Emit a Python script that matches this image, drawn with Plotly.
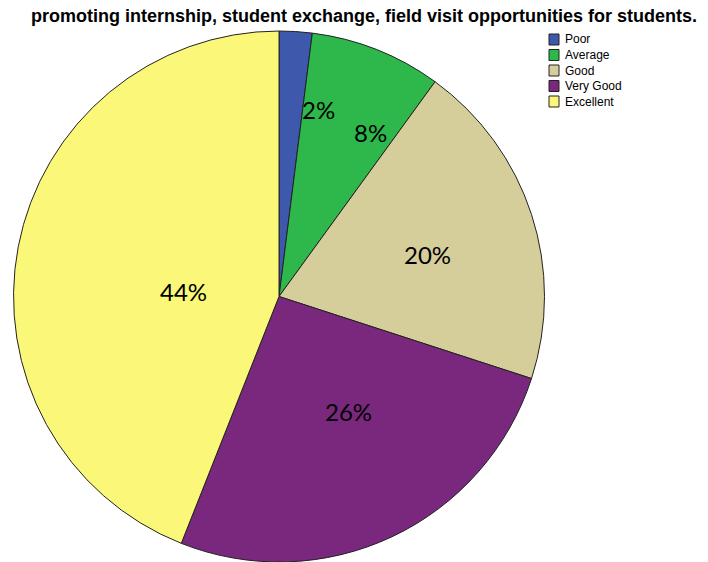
import math
import plotly.graph_objects as go

# Survey responses on promoting internship / exchange / field visit opportunities
categories = ["Poor", "Average", "Good", "Very Good", "Excellent"]
percent = [2, 8, 20, 26, 44]
colors = ["#3E58AC", "#2EB84B", "#D5CE9B", "#79287D", "#FBF779"]
# label placement: radius fraction and angular shift (deg) from slice middle
label_radius = [0.72, 0.707, 0.58, 0.507, 0.362]
label_shift = [8.2, 7.4, 2.2, -6.1, -7.8]

W, H = 708, 562
dom_x = [0.0191, 0.7691]
dom_y = [0.0, 0.9448]

fig = go.Figure(go.Pie(
    labels=categories,
    values=percent,
    sort=False,
    direction="clockwise",
    rotation=0,
    marker=dict(colors=colors, line=dict(color="#222222", width=1)),
    textinfo="none",
    hoverinfo="label+percent",
    domain=dict(x=dom_x, y=dom_y),
    showlegend=False,
))

# centre and radius of the pie in pixels
cx = (dom_x[0] + dom_x[1]) / 2 * W
cy = (dom_y[0] + dom_y[1]) / 2 * H
r = min((dom_x[1] - dom_x[0]) * W, (dom_y[1] - dom_y[0]) * H) / 2

total = sum(percent)
cum = 0
annotations = []
for val, rf, sh in zip(percent, label_radius, label_shift):
    mid = (cum + val / 2) / total * 360 + sh
    cum += val
    a = math.radians(mid)
    px = cx + rf * r * math.sin(a)
    py = cy + rf * r * math.cos(a)
    annotations.append(dict(
        x=px / W, y=py / H, xref="paper", yref="paper",
        xanchor="center", yanchor="middle",
        text=f"{val}%", showarrow=False,
        font=dict(family="Lato, Carlito, sans-serif", size=24, color="#000000"),
    ))

annotations.append(dict(
    x=364 / W, y=1 - 16 / H, xref="paper", yref="paper",
    text="<b>promoting internship, student exchange, field visit opportunities for students.</b>",
    showarrow=False, xanchor="center", yanchor="middle",
    font=dict(family="Liberation Sans, Arial, sans-serif", size=18, color="#000000"),
))

# compact legend: swatches and labels
shapes = []
leg_x, leg_y, step = 549, 34, 15.5
for i, (name, col) in enumerate(zip(categories, colors)):
    top = leg_y + step * i
    shapes.append(dict(
        type="rect", xref="paper", yref="paper",
        x0=leg_x / W, x1=(leg_x + 10) / W,
        y0=1 - (top + 11) / H, y1=1 - top / H,
        fillcolor=col, line=dict(color="#222222", width=1),
    ))
    annotations.append(dict(
        x=(leg_x + 14) / W, y=1 - (top + 5.5) / H, xref="paper", yref="paper",
        text=name, showarrow=False, xanchor="left", yanchor="middle",
        font=dict(family="Liberation Sans, Arial, sans-serif", size=12, color="#000000"),
    ))

fig.update_layout(
    width=W, height=H,
    margin=dict(l=0, r=0, t=0, b=0),
    paper_bgcolor="white",
    plot_bgcolor="white",
    annotations=annotations,
    shapes=shapes,
)

fig.write_html("out.html")
